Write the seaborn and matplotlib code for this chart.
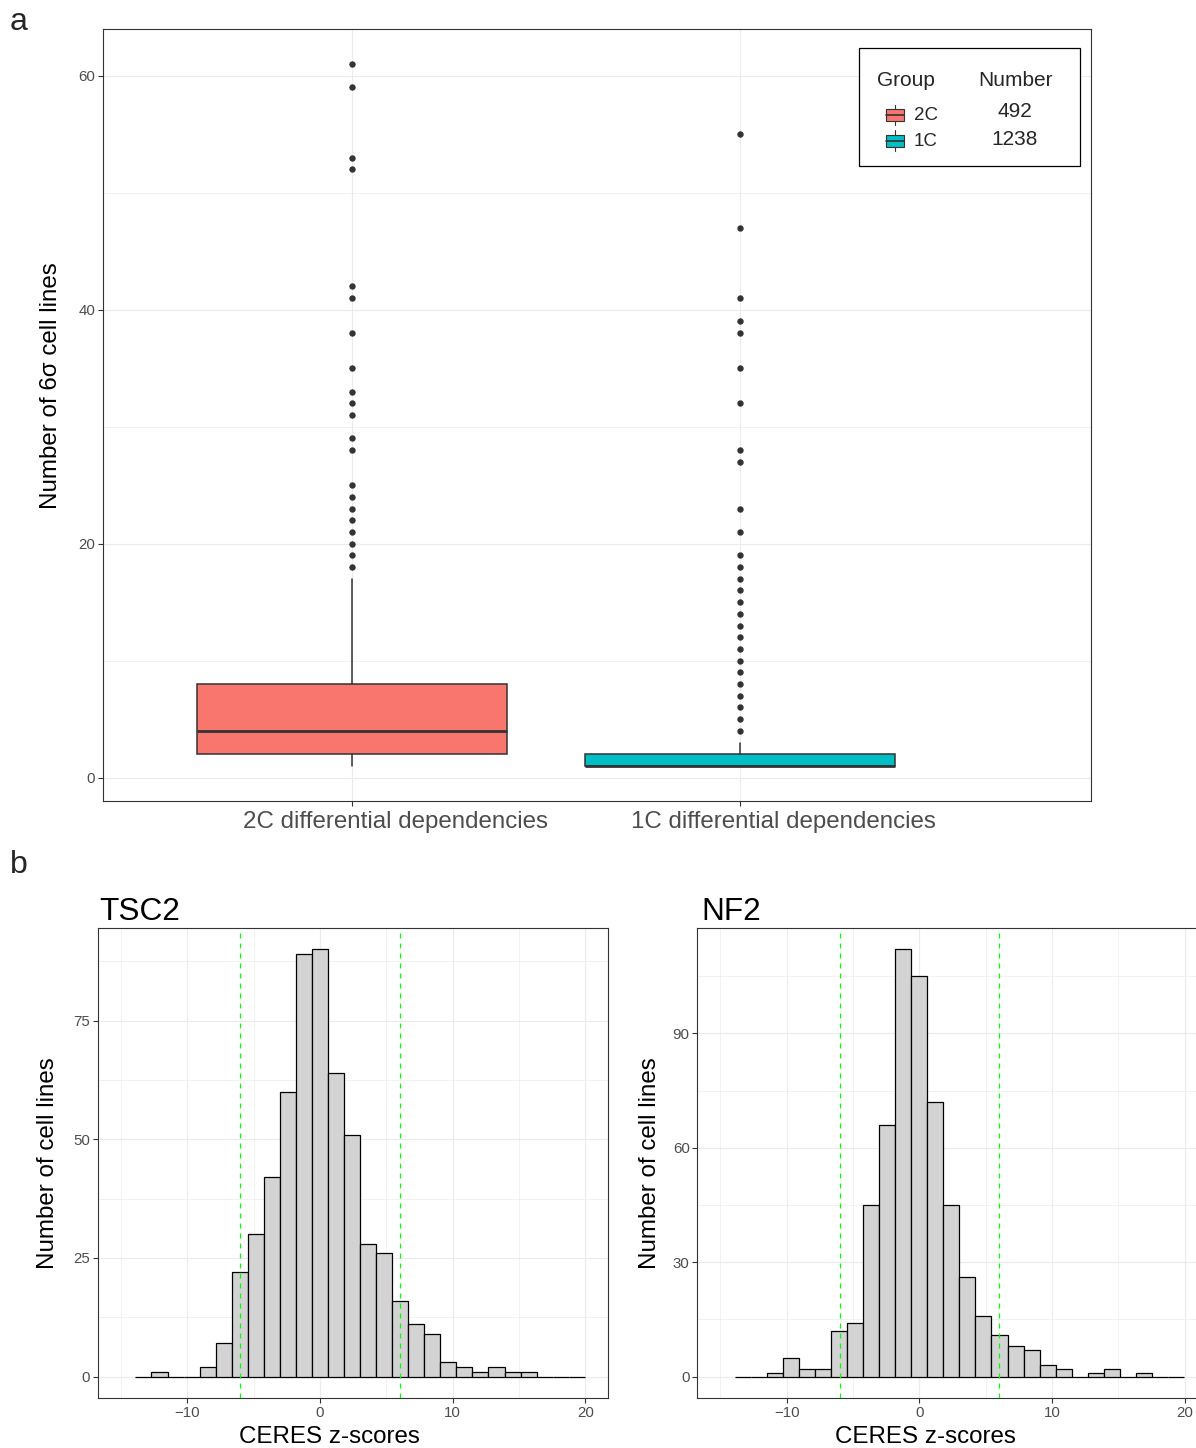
import matplotlib
matplotlib.use("Agg")
import numpy as np
import pandas as pd
import seaborn as sns
import matplotlib.pyplot as plt
import matplotlib.transforms as mtransforms
from matplotlib.patches import Rectangle
from matplotlib.ticker import MultipleLocator

# ---------------- data ----------------
groups = ["2C differential dependencies", "1C differential dependencies"]
legend_groups = ["2C", "1C"]
group_numbers = [492, 1238]
group_colors = ["#F8766D", "#00BFC4"]

box_q1 = [2, 1]
box_median = [4, 1]
box_q3 = [8, 2]
whisker_low = [1, 1]
whisker_high = [17, 3]
outliers_2c = [18, 19, 20, 21, 22, 23, 24, 25, 28, 29, 31, 32, 33, 35, 38, 41, 42, 52, 53, 59, 61]
outliers_1c = [4, 5, 6, 7, 8, 9, 10, 11, 12, 13, 14, 15, 16, 17, 18, 19, 21, 23, 27, 28,
               32, 35, 38, 39, 41, 47, 55]

bin_start = -13.91
bin_width = 1.2093
tsc2_counts = [0, 1, 0, 0, 2, 7, 22, 30, 42, 60, 89, 90, 64, 51, 28, 26, 16, 11, 9, 3,
               2, 1, 2, 1, 1, 0, 0, 0]
nf2_counts = [0, 0, 1, 5, 2, 2, 12, 14, 45, 66, 112, 105, 72, 45, 26, 16, 11, 8, 7, 3,
              2, 0, 1, 2, 0, 1, 0, 0]
sigma_lines = [-6, 6]

# ---------------- style ----------------
sns.set_theme(style="white")
plt.rcParams["font.family"] = ["Liberation Sans", "DejaVu Sans"]

GRID = "#EBEBEB"
BORDER = "#333333"
TICKTXT = "#4D4D4D"

fig = plt.figure(figsize=(11.96, 14.48), dpi=100)
W, H = 1196, 1448


def frame(l, t, r, b):
    return [l / W, 1 - b / H, (r - l) / W, (b - t) / H]


def style_axes(ax, tick_size):
    for s in ax.spines.values():
        s.set_color(BORDER)
        s.set_linewidth(0.8)
        s.set_visible(True)
    ax.set_axisbelow(True)
    ax.grid(which="major", color=GRID, linewidth=0.8)
    ax.grid(which="minor", color=GRID, linewidth=0.45)
    ax.tick_params(which="major", length=3.5, width=0.8, color=BORDER,
                   labelsize=tick_size, labelcolor=TICKTXT, pad=2,
                   left=True, bottom=True)
    ax.tick_params(which="minor", length=0)


# ---------------- panel a ----------------
axa = fig.add_axes(frame(103, 29, 1091, 801))
stats = []
fliers = [outliers_2c, outliers_1c]
for i, g in enumerate(groups):
    stats.append(dict(label=g, q1=box_q1[i], med=box_median[i], q3=box_q3[i],
                      whislo=whisker_low[i], whishi=whisker_high[i], fliers=fliers[i]))
bp = axa.bxp(stats, positions=[0, 1], widths=0.8, patch_artist=True, showcaps=False,
             boxprops=dict(edgecolor=BORDER, linewidth=1.1),
             medianprops=dict(color=BORDER, linewidth=2.0),
             whiskerprops=dict(color=BORDER, linewidth=1.1),
             flierprops=dict(marker="o", markerfacecolor=BORDER, markeredgecolor="none",
                             markersize=4.6))
for patch, c in zip(bp["boxes"], group_colors):
    patch.set_facecolor(c)

axa.set_xlim(-0.642, 1.905)
axa.set_ylim(-2, 64)
axa.set_xticks([0, 1])
axa.set_xticklabels(groups)
axa.yaxis.set_major_locator(MultipleLocator(20))
axa.yaxis.set_minor_locator(MultipleLocator(10))
style_axes(axa, 10.8)
axa.tick_params(axis="x", labelsize=17.4, pad=3.5)
offset = mtransforms.ScaledTranslation(0.43, 0, fig.dpi_scale_trans)
for lbl in axa.get_xticklabels():
    lbl.set_transform(lbl.get_transform() + offset)
axa.set_ylabel("Number of 6σ cell lines", fontsize=17.4, color="black")
axa.yaxis.set_label_coords(-0.042, 0.5376)
axa.set_xlabel("")

# legend (ggplot-style box with two columns)
axa.add_patch(Rectangle((0.765, 0.823), 0.224, 0.152, transform=axa.transAxes,
                        facecolor="white", edgecolor="black", linewidth=0.9, zorder=5))
axa.text(0.8128, 0.9335, "Group", transform=axa.transAxes, ha="center", va="center",
         fontsize=15, zorder=6)
axa.text(0.924, 0.9335, "Number", transform=axa.transAxes, ha="center", va="center",
         fontsize=15, zorder=6)
key_y = [0.8885, 0.8555]
num_y = [0.8925, 0.8565]
kw, kh = 0.0185, 0.0155
for i in range(2):
    cx = 0.8016
    axa.plot([cx, cx], [key_y[i] - kh * 0.85, key_y[i] + kh * 0.85], transform=axa.transAxes,
             color=BORDER, linewidth=0.8, zorder=6)
    axa.add_patch(Rectangle((cx - kw / 2, key_y[i] - kh / 2), kw, kh, transform=axa.transAxes,
                            facecolor=group_colors[i], edgecolor=BORDER, linewidth=0.8, zorder=7))
    axa.plot([cx - kw / 2, cx + kw / 2], [key_y[i], key_y[i]], transform=axa.transAxes,
             color=BORDER, linewidth=1.2, zorder=8)
    axa.text(0.8209, key_y[i] - 0.001, legend_groups[i], transform=axa.transAxes, ha="left",
             va="center", fontsize=13.5, zorder=6)
    axa.text(0.923, num_y[i], str(group_numbers[i]), transform=axa.transAxes, ha="center",
             va="center", fontsize=15, zorder=6)

# ---------------- panel b ----------------
edges = [float(e) for e in bin_start + bin_width * np.arange(len(tsc2_counts) + 1)]
centers = [(a + b) / 2 for a, b in zip(edges[:-1], edges[1:])]


def hist_panel(ax, counts, title, ylim, ymajor, label_x, ylabel_x, title_dx):
    df = pd.DataFrame({"z": centers, "n": counts})
    sns.histplot(data=df, x="z", weights="n", bins=edges, ax=ax, color="#D3D3D3",
                 edgecolor="black", linewidth=0.9, alpha=1.0)
    for v in sigma_lines:
        ax.axvline(v, color="#00FF00", linestyle=(0, (4, 4)), linewidth=0.9, zorder=3)
    ax.set_xlim(-16.73, 21.7)
    ax.set_ylim(*ylim)
    ax.xaxis.set_major_locator(MultipleLocator(10))
    ax.xaxis.set_minor_locator(MultipleLocator(5))
    ax.yaxis.set_major_locator(MultipleLocator(ymajor))
    ax.yaxis.set_minor_locator(MultipleLocator(ymajor / 2))
    style_axes(ax, 10.8)
    ax.set_xlabel("CERES z-scores", fontsize=17.4, color="black")
    ax.xaxis.set_label_coords(label_x, -0.059)
    ax.set_ylabel("Number of cell lines", fontsize=17.4, color="black")
    ax.yaxis.set_label_coords(ylabel_x, 0.5)
    t = ax.set_title(title, loc="left", fontsize=22.7, pad=6, color="black")
    t.set_transform(t.get_transform() + mtransforms.ScaledTranslation(title_dx / 100, 0,
                                                                       fig.dpi_scale_trans))


axb1 = fig.add_axes(frame(98, 928, 608, 1398))
hist_panel(axb1, tsc2_counts, "TSC2", (-4.5, 94.5), 25, 0.454, -0.076, 1)
axb2 = fig.add_axes(frame(697.3, 928, 1207.3, 1398))
hist_panel(axb2, nf2_counts, "NF2", (-5.6, 117.6), 30, 0.448, -0.071, 4)

fig.text(10 / W, 1 - 30 / H, "a", fontsize=23, ha="left", va="baseline")
fig.text(10 / W, 1 - 873 / H, "b", fontsize=23, ha="left", va="baseline")

fig.savefig("out.png", dpi=100)
